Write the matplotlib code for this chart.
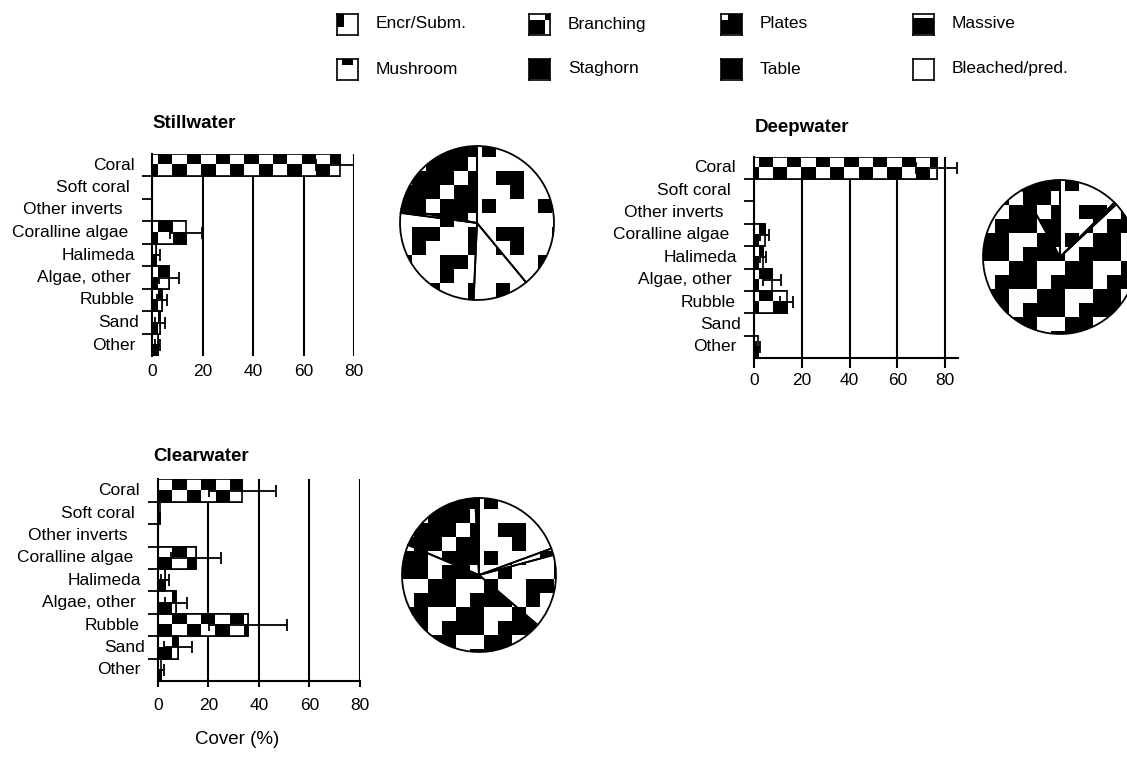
import numpy as np
import matplotlib
matplotlib.use('Agg')
import matplotlib.pyplot as plt
from matplotlib.transforms import ScaledTranslation

plt.rcParams['font.family'] = ['Liberation Sans', 'DejaVu Sans']

# substrate cover (%), mean and error
categories = ['Coral', 'Soft coral', 'Other inverts', 'Coralline algae', 'Halimeda',
              'Algae, other', 'Rubble', 'Sand', 'Other']
still_cover = [74.5, 0, 0, 13.5, 1.5, 6.6, 3.8, 3.0, 2.1]
still_err = [9.5, 0, 0, 6.3, 1.6, 4.0, 2.0, 2.0, 1.1]
deep_cover = [76.4, 0, 0, 4.6, 3.9, 7.6, 13.8, 0, 1.7]
deep_err = [8.6, 0, 0, 1.8, 1.1, 3.9, 2.8, 0, 0.9]
clear_cover = [33.5, 1.0, 0, 15.1, 2.9, 7.2, 35.6, 8.0, 1.4]
clear_err = [13.3, 0, 0, 9.8, 1.7, 4.5, 15.5, 5.7, 1.1]

# coral growth forms (pie shares, clockwise from 12 o'clock)
growth_forms = ['Encr/Subm.', 'Branching', 'Plates', 'Massive',
                'Mushroom', 'Staghorn', 'Table', 'Bleached/pred.']
still_forms = [39.0, 11.7, 26.4, 0.8, 22.1, 0, 0, 0]
deep_forms = [12.5, 0.5, 0, 78.9, 8.1, 0, 0, 0]
clear_forms = [19.4, 1.4, 15.4, 45.1, 17.8, 0.8, 0, 0]

# legend swatches, 1 = black
swatches = {
    'Encr/Subm.': [[1, 0, 0], [1, 0, 0], [0, 0, 0]],
    'Branching': [[0, 0, 0, 1], [1, 1, 1, 0], [1, 1, 1, 0]],
    'Plates': [[0, 1, 1], [1, 1, 1], [1, 1, 1]],
    'Massive': [[0, 0, 0], [1, 1, 1], [1, 1, 1], [1, 1, 1]],
    'Mushroom': [[0, 1, 1, 0], [0, 0, 0, 0], [0, 0, 0, 0]],
    'Staghorn': [[1]],
    'Table': [[1]],
    'Bleached/pred.': [[0]],
}
# pie fill textures (repeating tiles of 14 px cells), 1 = black
textures = {
    'Encr/Subm.': [[0, 0, 1, 0], [0, 0, 0, 0], [1, 0, 0, 1], [1, 0, 0, 0]],
    'Branching': [[0, 0, 0], [0, 1, 0], [0, 0, 0]],
    'Plates': [[1, 0, 0, 1], [0, 0, 0, 1], [0, 1, 1, 0], [0, 1, 0, 0]],
    'Massive': [[1, 1, 0, 0], [1, 1, 0, 1], [0, 0, 1, 1], [0, 1, 1, 1]],
    'Mushroom': [[1, 1, 0, 1], [1, 0, 1, 1], [0, 1, 1, 1], [1, 1, 1, 0]],
    'Staghorn': [[1]],
    'Table': [[1]],
    'Bleached/pred.': [[0]],
}
# small left shifts of the category labels (px), as in the original
label_shift = [5, 10, 17, 11, 4, 9, 5, 0, 4]

W, H = 1127, 758
fig = plt.figure(figsize=(W / 100, H / 100), dpi=100)


def px_axes(left, top, width, height):
    return fig.add_axes([left / W, 1 - (top + height) / H, width / W, height / H])


def bar_panel(box, title, title_xy, cover, err, xmax, black_start,
              bottom_spine, tick_len, tick_pad):
    ax = px_axes(*box)
    y = np.arange(len(categories))
    cover = np.array(cover, dtype=float)
    err = np.array(err, dtype=float)
    bars = ax.barh(y, cover, height=1.0, color='white', edgecolor='black',
                   linewidth=1.2, zorder=2)
    # checker fill clipped to each bar
    cw = 14.3 * xmax / box[2]
    x0 = black_start - cw
    ncol = int(np.ceil((xmax - x0) / cw)) + 1
    for i, bar in enumerate(bars):
        img = 1 - (np.arange(ncol)[None, :] + np.arange(2)[:, None]) % 2
        im = ax.imshow(img, cmap='gray', vmin=0, vmax=1, aspect='auto',
                       extent=(x0, x0 + ncol * cw, i + 0.5, i - 0.5),
                       interpolation='nearest', zorder=2.1)
        im.set_clip_path(bar)
    ax.barh(y, cover, height=1.0, fill=False, edgecolor='black',
            linewidth=1.2, zorder=3)
    m = err > 0
    ax.errorbar(cover[m], y[m], xerr=err[m], fmt='none', ecolor='black',
                elinewidth=1.3, capsize=4.5, capthick=1.3, zorder=4)

    ax.set_xlim(0, xmax)
    ax.set_ylim(len(categories) - 0.5, -0.5)
    ax.set_aspect('auto')
    ax.set_xticks([0, 20, 40, 60, 80])
    ax.set_yticks(y[:-1] + 0.5, minor=True)
    ax.set_yticks([])
    ax.tick_params(axis='y', which='minor', length=7.5, width=1.3, direction='out')
    ax.tick_params(axis='x', length=tick_len, width=1.5, pad=tick_pad, labelsize=12.5)
    ax.grid(axis='x', color='black', linewidth=1.5)
    ax.set_axisbelow(True)
    for s in ['top', 'right']:
        ax.spines[s].set_visible(False)
    ax.spines['left'].set_linewidth(1.5)
    ax.spines['bottom'].set_linewidth(1.5)
    ax.spines['bottom'].set_visible(bottom_spine)

    for yi, lab, s in zip(y, categories, label_shift):
        tr = ax.get_yaxis_transform() + ScaledTranslation(-(13 + s) / 100, 0,
                                                          fig.dpi_scale_trans)
        ax.text(0, yi, lab, transform=tr, ha='right', va='center', fontsize=12.5)

    fig.text(title_xy[0] / W, 1 - title_xy[1] / H, title, ha='left', va='center',
             fontsize=13.5, fontweight='bold')
    return ax


def pie_panel(cx, cy, values):
    R = 77
    lim = 1.03
    ax = px_axes(cx - R * lim, cy - R * lim, 2 * R * lim, 2 * R * lim)
    wedges, _ = ax.pie(values, startangle=90, counterclock=False, radius=1,
                       wedgeprops=dict(facecolor='white', edgecolor='none'))
    cell = 14 / R
    n = int(np.ceil(2 * lim / cell)) + 1
    for w, form in zip(wedges, growth_forms):
        t = np.array(textures[form])
        reps = (n // t.shape[0] + 1, n // t.shape[1] + 1)
        img = 1 - np.tile(t, reps)[:n, :n]
        im = ax.imshow(img, cmap='gray', vmin=0, vmax=1, interpolation='nearest',
                       extent=(-lim, -lim + n * cell, lim - n * cell, lim), zorder=1.5)
        im.set_clip_path(w)
    ax.pie(values, startangle=90, counterclock=False, radius=1,
           wedgeprops=dict(fill=False, edgecolor='black', linewidth=1.3, zorder=3))
    ax.set_xlim(-lim, lim)
    ax.set_ylim(-lim, lim)
    ax.set_aspect('equal')
    ax.axis('off')
    return ax


bar_panel((152.3, 153.75, 202, 202.5), 'Stillwater', (152, 124),
          still_cover, still_err, 80, 2.4, False, 0, 5.4)
bar_panel((753.7, 156.5, 204.3, 201.6), 'Deepwater', (755, 128),
          deep_cover, deep_err, 85.3, 1.9, True, 7, 4)
bar_panel((157.7, 479.4, 202.3, 201.6), 'Clearwater', (153, 456),
          clear_cover, clear_err, 80, 5.8, True, 4.3, 7.6)

pie_panel(477, 223, still_forms)
pie_panel(1060, 257, deep_forms)
pie_panel(479, 575, clear_forms)

fig.text(237.5 / W, 1 - 740 / H, 'Cover (%)', ha='center', va='center', fontsize=13.5)

# legend: 2 rows x 4 columns of pattern swatches
col_x = [337, 529, 721, 913]
row_y = [24, 69]
for k, form in enumerate(growth_forms):
    bx = col_x[k % 4]
    by = row_y[k // 4]
    lax = px_axes(bx, by - 10.5, 21, 21)
    lax.imshow(1 - np.array(swatches[form]), cmap='gray', vmin=0, vmax=1,
               interpolation='nearest', aspect='auto')
    lax.set_xticks([])
    lax.set_yticks([])
    for s in lax.spines.values():
        s.set_linewidth(1.2)
    fig.text((bx + 39) / W, 1 - by / H, form, ha='left', va='center', fontsize=12.5)

fig.savefig('out.png', dpi=100)
